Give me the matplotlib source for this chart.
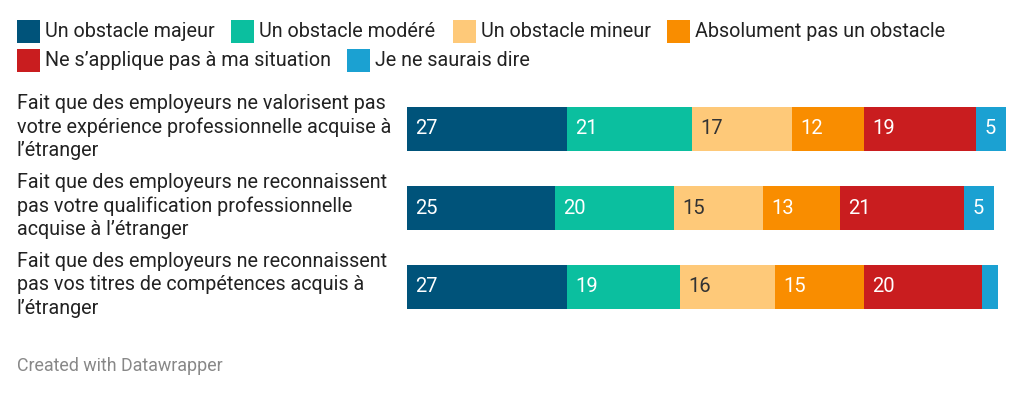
import matplotlib.pyplot as plt
from matplotlib.patches import Rectangle

plt.rcParams['font.family'] = ['Roboto', 'DejaVu Sans']

W, H = 1024, 393
DPI = 100

categories = [
    "Fait que des employeurs ne valorisent pas\nvotre expérience professionnelle acquise à\nl\u2019étranger",
    "Fait que des employeurs ne reconnaissent\npas votre qualification professionnelle\nacquise à l\u2019étranger",
    "Fait que des employeurs ne reconnaissent\npas vos titres de compétences acquis à\nl\u2019étranger",
]
series = ["Un obstacle majeur", "Un obstacle modéré", "Un obstacle mineur",
          "Absolument pas un obstacle", "Ne s\u2019applique pas à ma situation",
          "Je ne saurais dire"]
majeur = [27, 25, 27]
modere = [21, 20, 19]
mineur = [17, 15, 16]
absolument = [12, 13, 15]
ne_sapplique = [19, 21, 20]
ne_sais = [5, 5, 2.7]
values = [majeur, modere, mineur, absolument, ne_sapplique, ne_sais]

colors = ["#00537a", "#0bbf9f", "#fec979", "#f98d00", "#c91d1f", "#1ba1d2"]
text_colors = ["white", "white", "#333333", "white", "white", "white"]

fig = plt.figure(figsize=(W / DPI, H / DPI), dpi=DPI)

def px(x0, y0, w, h):
    # figure-pixel box (top-left origin) -> figure fraction
    return [x0 / W, 1 - (y0 + h) / H, w / W, h / H]

# bars
ax = fig.add_axes(px(407, 89.5, 599, 237))
ax.set_xlim(0, 101)
ax.set_ylim(2.5, -0.5)
ax.axis('off')
left = [0, 0, 0]
for vals, col, tcol in zip(values, colors, text_colors):
    ax.barh(range(3), vals, left=left, height=0.56, color=col, linewidth=0)
    for i, v in enumerate(vals):
        if v >= 4:
            ax.text(left[i] + 1.4, i, f"{v:g}", color=tcol, fontsize=14.5,
                    va='center', ha='left')
    left = [l + v for l, v in zip(left, vals)]

# category labels
centers = [127, 206, 285]
for lab, cy in zip(categories, centers):
    fig.text(17 / W, 1 - cy / H, lab, fontsize=14.2, color='#222222',
             va='center', ha='left', linespacing=1.3)

# legend
leg = [(17, 20, 0), (231, 20, 1), (453, 20, 2), (667, 20, 3),
       (17, 49, 4), (347, 49, 5)]
for x0, y0, k in leg:
    fig.patches.append(Rectangle((x0 / W, 1 - (y0 + 23) / H), 23 / W, 23 / H,
                                 transform=fig.transFigure, color=colors[k],
                                 linewidth=0))
    fig.text((x0 + 28) / W, 1 - (y0 + 11.5) / H, series[k], fontsize=14.2,
             color='#222222', va='center', ha='left')

fig.text(17 / W, 1 - 366 / H, "Created with Datawrapper", fontsize=12.9,
         color='#888888', va='center', ha='left')

fig.savefig("out.png", dpi=DPI)
